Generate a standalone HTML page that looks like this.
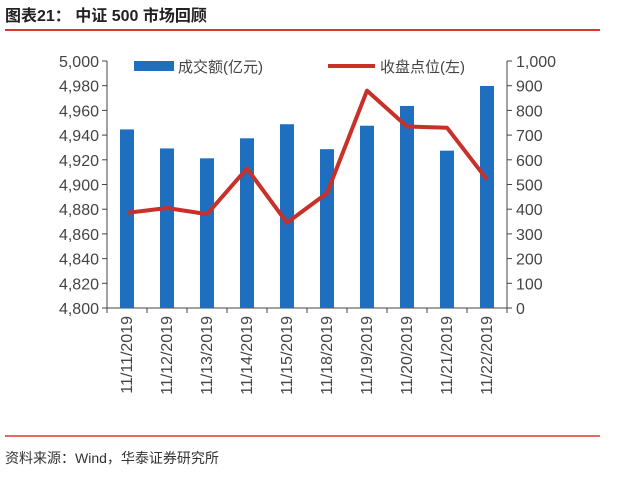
<!DOCTYPE html>
<html><head><meta charset="utf-8"><style>
body{margin:0;background:#fff;font-family:"Liberation Sans","Noto Sans CJK SC",sans-serif}
</style></head><body>
<svg width="620" height="472" xmlns="http://www.w3.org/2000/svg" font-family="Liberation Sans, Noto Sans CJK SC, sans-serif">
<text x="5" y="21" font-size="16" font-weight="bold" fill="#222">图表21：  中证 500 市场回顾</text>
<line x1="5" y1="30" x2="600" y2="30" stroke="#d9382c" stroke-width="2"/>
<g id="plot"></g>
<line x1="5" y1="436" x2="600" y2="436" stroke="#d9382c" stroke-width="1.5"/>
<text x="5" y="463" font-size="14" fill="#333">资料来源：Wind，华泰证券研究所</text>
</svg>
<script>
const categories=["11/11/2019","11/12/2019","11/13/2019","11/14/2019","11/15/2019","11/18/2019","11/19/2019","11/20/2019","11/21/2019","11/22/2019"];
const turnover=[723,646,606,687,744,643,738,818,637,899];
const closeIdx=[4877,4881,4876,4913,4869,4893,4976,4947,4946,4904];
const leftTicks=[4800,4820,4840,4860,4880,4900,4920,4940,4960,4980,5000];
const rightTicks=[0,100,200,300,400,500,600,700,800,900,1000];
const NS="http://www.w3.org/2000/svg";
const g=document.getElementById('plot');
const X0=107,X1=507,Y0=308,Y1=61;
const band=(X1-X0)/categories.length;
const xc=i=>X0+band*(i+0.5);
const yL=v=>Y0-(v-4800)/200*(Y0-Y1);
const yR=v=>Y0-v/1000*(Y0-Y1);
function mk(t,a){const e=document.createElementNS(NS,t);for(const k in a)e.setAttribute(k,a[k]);g.appendChild(e);return e;}
const fmt=v=>v.toLocaleString('en-US');
let e=mk('line',{x1:X0,y1:Y1,x2:X0,y2:Y0,stroke:'#444'});


e=mk('line',{x1:X1,y1:Y1,x2:X1,y2:Y0,stroke:'#444'});


e=mk('line',{x1:X0,y1:Y0,x2:X1,y2:Y0,stroke:'#444'});


leftTicks.forEach(v=>{const y=yL(v);mk('line',{x1:X0-5,y1:y,x2:X0,y2:y,stroke:'#444'});
 const t=mk('text',{x:X0-8,y:y+6,'text-anchor':'end','font-size':'16',fill:'#444'});t.textContent=fmt(v);
 
 });
rightTicks.forEach(v=>{const y=yR(v);mk('line',{x1:X1,y1:y,x2:X1+5,y2:y,stroke:'#444'});
 const t=mk('text',{x:X1+9,y:y+6,'font-size':'16',fill:'#444'});t.textContent=fmt(v);
 
 });
for(let i=0;i<=categories.length;i++){const x=X0+band*i;mk('line',{x1:x,y1:Y0,x2:x,y2:Y0+5,stroke:'#444'});}
turnover.forEach((v,i)=>{const r=mk('rect',{x:xc(i)-7,y:yR(v),width:14,height:Y0-yR(v),fill:'#1f6fc0'});
 
 });
const p=mk('polyline',{points:closeIdx.map((v,i)=>xc(i)+','+yL(v)).join(' '),fill:'none',stroke:'#c8302a','stroke-width':'4','stroke-linejoin':'round'});


categories.forEach((c,i)=>{const x=xc(i)+5,y=Y0+8;
 const t=mk('text',{x:x,y:y,transform:`rotate(-90 ${x} ${y})`,'text-anchor':'end','font-size':'16',fill:'#444'});t.textContent=c;
 
 });
e=mk('rect',{x:134,y:61,width:40,height:10,fill:'#1f6fc0'});


e=mk('text',{x:178,y:72,'font-size':'15',fill:'#444'});e.textContent='成交额(亿元)';


e=mk('line',{x1:328,y1:66,x2:375,y2:66,stroke:'#c8302a','stroke-width':'4'});


e=mk('text',{x:380,y:72,'font-size':'15',fill:'#444'});e.textContent='收盘点位(左)';


</script>
</body></html>
